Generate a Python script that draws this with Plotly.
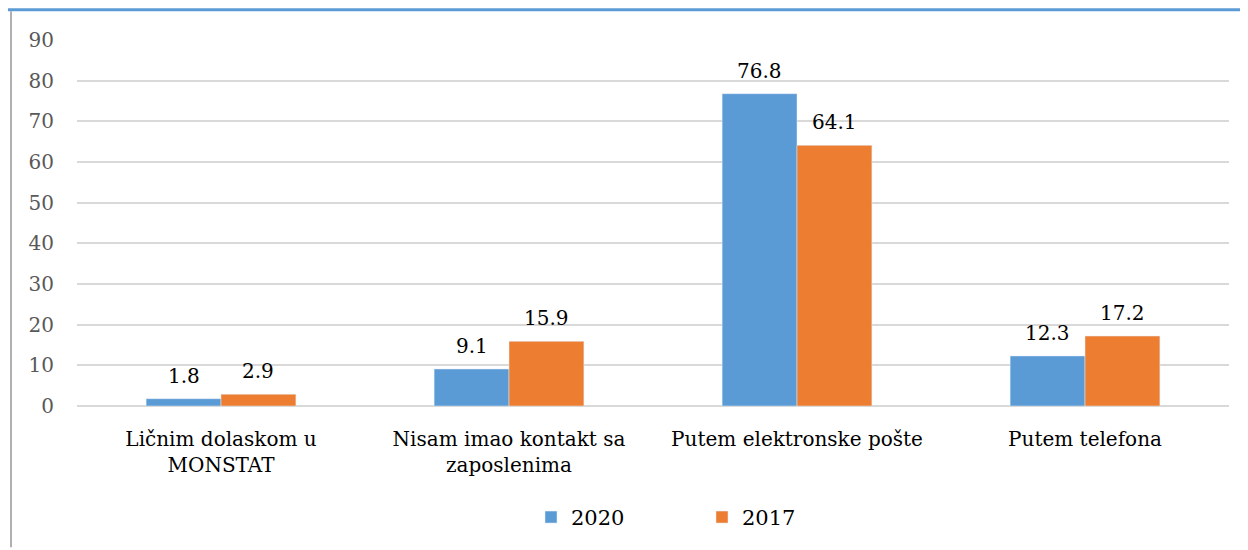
import plotly.graph_objects as go

categories = ["Ličnim dolaskom u<br>MONSTAT", "Nisam imao kontakt sa<br>zaposlenima",
              "Putem elektronske pošte", "Putem telefona"]
series_names = ["2020", "2017"]
values_2020 = [1.8, 9.1, 76.8, 12.3]
values_2017 = [2.9, 15.9, 64.1, 17.2]
y_ticks = [0, 10, 20, 30, 40, 50, 60, 70, 80, 90]

FONT = "DejaVu Serif"
colors = ["#5B9BD5", "#ED7D31"]

# page has an 8px body margin; figure coordinates = page - 8
W, H = 1240, 542
L, R, T, B = 69, 19, 32, 142
pw, ph = W - L - R, H - T - B

def px(x):
    return (x - L) / pw

def py(y):
    return (H - B - y) / ph

fig = go.Figure()
for name, vals, col in zip(series_names, [values_2020, values_2017], colors):
    fig.add_trace(go.Bar(
        x=categories, y=vals, name=name, marker_color=col,
    ))

bar_px = pw / 4 * (1 - 0.48) / 2
annotations = []
for i, vals in enumerate([values_2020, values_2017]):
    shift = (-0.5 if i == 0 else 0.5) * bar_px
    for c, v in zip(categories, vals):
        annotations.append(dict(
            x=c, y=v, xref="x", yref="y", text=f"{v:.1f}", showarrow=False,
            xanchor="center", yanchor="bottom", xshift=shift, yshift=9,
            font=dict(family=FONT, size=20, color="#000000"),
        ))

fig.update_layout(
    width=W, height=H,
    margin=dict(l=L, r=R, t=T, b=B),
    paper_bgcolor="white", plot_bgcolor="white",
    barmode="group", bargap=0.48, bargroupgap=0,
    font=dict(family=FONT, size=20, color="#595959"),
    showlegend=True,
    legend=dict(orientation="h", x=px(523), xanchor="left", y=py(512), yanchor="middle",
                font=dict(family=FONT, size=21, color="#000000"),
                itemwidth=30, traceorder="normal", entrywidth=126, entrywidthmode="pixels"),
    xaxis=dict(showgrid=False, showline=False, ticks="", ticklabelstandoff=19,
               tickfont=dict(family=FONT, size=20, color="#000000")),
    yaxis=dict(range=[0, 90], tickvals=y_ticks, showgrid=True, gridcolor="#D9D9D9",
               gridwidth=1.5, zeroline=True, zerolinecolor="#D9D9D9", zerolinewidth=1.5,
               showline=False, ticks="", ticklabelstandoff=22,
               tickfont=dict(family=FONT, size=20, color="#595959")),
    annotations=annotations,
    shapes=[
        dict(type="line", xref="paper", yref="paper", x0=px(0), x1=px(W), y0=py(1.5), y1=py(1.5),
             line=dict(color="#5B9BD5", width=3)),
        dict(type="line", xref="paper", yref="paper", x0=px(3), x1=px(3), y0=py(3), y1=py(H),
             line=dict(color="#B0B0B0", width=2)),
    ],
)

fig.write_html("out.html")
